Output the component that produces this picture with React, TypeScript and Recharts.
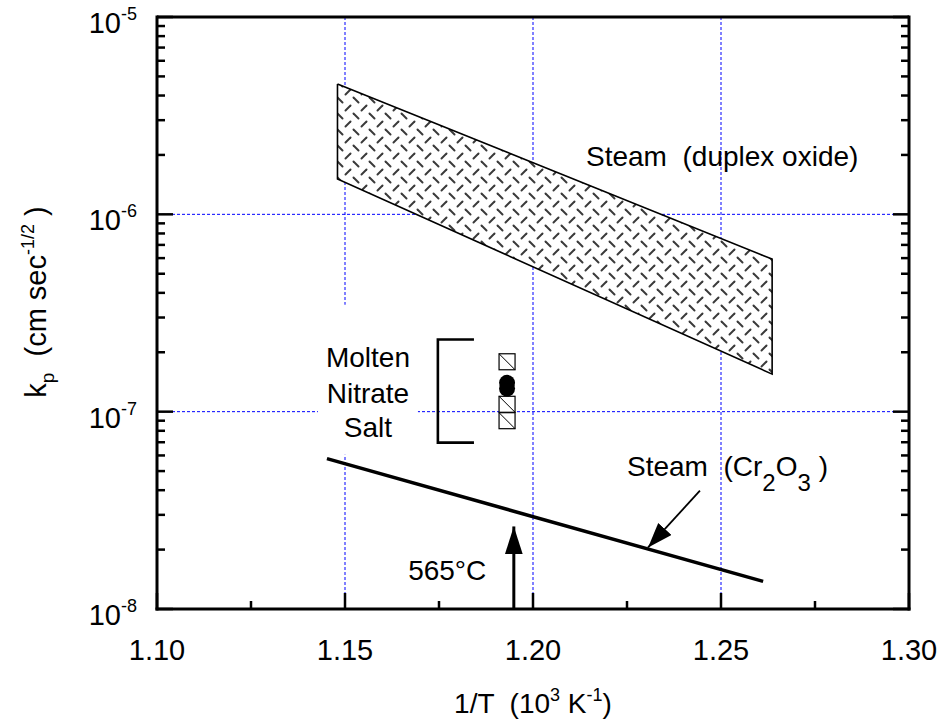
import React from "react";
import {
  Area,
  CartesianGrid,
  ComposedChart,
  Line,
  ReferenceDot,
  ReferenceLine,
  Scatter,
  XAxis,
  YAxis,
} from "recharts";

const W = 946;
const H = 725;
const FONT = "'Liberation Sans', Arial, Helvetica, sans-serif";

// axes
const xMajor = [1.1, 1.15, 1.2, 1.25, 1.3];
const xTicks = [1.1, 1.125, 1.15, 1.175, 1.2, 1.225, 1.25, 1.275, 1.3];
const yDecades = [-8, -7, -6];
const yMantissas = [1, 2, 3, 4, 5, 6, 7, 8, 9];
const yTicks = [
  ...yDecades.flatMap((d) => yMantissas.map((m) => m * Math.pow(10, d))),
  1e-5,
];
const gridX = [1.15, 1.2, 1.25];
const gridY = [1e-6, 1e-7];

// steam (duplex oxide) scatter band
const duplexBand = [
  { x: 1.148, band: [1.51e-6, 4.58e-6] },
  { x: 1.2636, band: [1.55e-7, 5.93e-7] },
];
const duplexOutline = [
  { x: duplexBand[0].x, y: duplexBand[0].band[1] },
  { x: duplexBand[1].x, y: duplexBand[1].band[1] },
  { x: duplexBand[1].x, y: duplexBand[1].band[0] },
  { x: duplexBand[0].x, y: duplexBand[0].band[0] },
  { x: duplexBand[0].x, y: duplexBand[0].band[1] },
];

// steam (Cr2O3)
const cr2o3Line = [
  { x: 1.1452, y: 5.78e-8 },
  { x: 1.2612, y: 1.38e-8 },
];

// molten nitrate salt data at 565 C
const saltSquares = [
  { x: 1.1931, y: 1.79e-7 },
  { x: 1.1931, y: 1.09e-7 },
  { x: 1.1931, y: 9.0e-8 },
];
const saltCircles = [
  { x: 1.1931, y: 1.4e-7 },
  { x: 1.1931, y: 1.31e-7 },
];
const saltBracket = [
  { x: 1.1843, y: 2.32e-7 },
  { x: 1.1747, y: 2.32e-7 },
  { x: 1.1747, y: 6.97e-8 },
  { x: 1.1843, y: 6.97e-8 },
];

// arrows
const cr2o3Arrow = [
  { x: 1.2444, y: 3.98e-8 },
  { x: 1.2306, y: 2.05e-8 },
];
const tempArrow = [
  { x: 1.1949, y: 1e-8 },
  { x: 1.1949, y: 2.62e-8 },
];

const isDecade = (v: number) =>
  Math.abs(Math.log10(v) - Math.round(Math.log10(v))) < 1e-6;

const XTick = (p: any) => {
  const { x, y, payload } = p;
  const v = payload.value;
  const major = xMajor.some((m) => Math.abs(m - v) < 1e-9);
  return (
    <g>
      <line x1={x} x2={x} y1={y} y2={y - (major ? 16 : 8)} stroke="#000" strokeWidth={2.5} />
      {major && (
        <text x={x} y={y + 51} textAnchor="middle" fontSize={29} fill="#000">
          {v.toFixed(2)}
        </text>
      )}
    </g>
  );
};

const YTickLeft = (p: any) => {
  const { x, y, payload } = p;
  const v = payload.value;
  const major = isDecade(v);
  return (
    <g>
      <line x1={x} x2={x + (major ? 16 : 8)} y1={y} y2={y} stroke="#000" strokeWidth={2.5} />
      {major && (
        <text x={x - 20} y={y + 16} textAnchor="end" fill="#000">
          <tspan fontSize={29}>10</tspan>
          <tspan fontSize={18} dy={-13}>
            {Math.round(Math.log10(v))}
          </tspan>
        </text>
      )}
    </g>
  );
};

const YTickRight = (p: any) => {
  const { x, y, payload } = p;
  const major = isDecade(payload.value);
  return <line x1={x} x2={x - (major ? 16 : 8)} y1={y} y2={y} stroke="#000" strokeWidth={2.5} />;
};

const XTitle = (p: any) => {
  const vb = p.viewBox;
  return (
    <text x={vb.x + vb.width / 2} y={vb.y + 104} textAnchor="middle" fontSize={28} fill="#000" style={{ whiteSpace: "pre" }}>
      <tspan>1/T  (10</tspan>
      <tspan fontSize={18} dy={-12}>3</tspan>
      <tspan dy={12}> K</tspan>
      <tspan fontSize={18} dy={-12}>-1</tspan>
      <tspan dy={12}>)</tspan>
    </text>
  );
};

const YTitle = (p: any) => {
  const vb = p.viewBox;
  const cx = 46;
  const cy = vb.y + 285;
  return (
    <text x={cx} y={cy} textAnchor="middle" fontSize={29} fill="#000" transform={`rotate(-90 ${cx} ${cy})`} style={{ whiteSpace: "pre" }}>
      <tspan>k</tspan>
      <tspan fontSize={19} dy={8}>p</tspan>
      <tspan dy={-8}>  (cm sec</tspan>
      <tspan fontSize={18} dy={-12}>-1/2</tspan>
      <tspan dy={12}> )</tspan>
    </text>
  );
};

const SquareShape = (p: any) => {
  const { cx, cy } = p;
  const s = 8;
  return (
    <g>
      <rect x={cx - s} y={cy - s} width={2 * s} height={2 * s} fill="#fff" stroke="#000" strokeWidth={1.2} />
      <line x1={cx - s} y1={cy - s} x2={cx + s} y2={cy + s} stroke="#000" strokeWidth={1} />
    </g>
  );
};

const CircleShape = (p: any) => <circle cx={p.cx} cy={p.cy} r={8} fill="#000" />;

const DuplexLabel = (p: any) => (
  <text x={p.cx} y={p.cy} fontSize={28} fill="#000" style={{ whiteSpace: "pre" }}>
    Steam  (duplex oxide)
  </text>
);

const Cr2o3Label = (p: any) => (
  <text x={p.cx} y={p.cy} fontSize={28} fill="#000" style={{ whiteSpace: "pre" }}>
    <tspan>Steam  (Cr</tspan>
    <tspan fontSize={24} dy={15}>2</tspan>
    <tspan dy={-15}>O</tspan>
    <tspan fontSize={24} dy={15}>3</tspan>
    <tspan dy={-15}> )</tspan>
  </text>
);

const TempLabel = (p: any) => (
  <text x={p.cx} y={p.cy} fontSize={28} fill="#000">
    565°C
  </text>
);

const SaltLabel = (p: any) => (
  <g>
    <rect x={p.cx - 50} y={p.cy - 98} width={100} height={150} fill="#fff" />
    <text x={p.cx} y={p.cy - 36} textAnchor="middle" fontSize={28} fill="#000">Molten</text>
    <text x={p.cx} y={p.cy} textAnchor="middle" fontSize={28} fill="#000">Nitrate</text>
    <text x={p.cx} y={p.cy + 34} textAnchor="middle" fontSize={28} fill="#000">Salt</text>
  </g>
);

export default function App() {
  const axisLine = { stroke: "#000", strokeWidth: 3, strokeLinecap: "square" as const };
  return (
    <div style={{ position: "absolute", left: 0, top: 0, width: W, height: H, background: "#fff", fontFamily: FONT }}>
      <ComposedChart width={W} height={H} margin={{ top: 17, right: 36, bottom: 0, left: 0 }}>
        <defs>
          <pattern id="plate" width={16} height={16} patternUnits="userSpaceOnUse">
            <rect width={16} height={16} fill="#fff" />
            <line x1={1.5} y1={1.5} x2={6.5} y2={6.5} stroke="#3a3a3a" strokeWidth={2} strokeLinecap="round" />
            <line x1={9.5} y1={14.5} x2={14.5} y2={9.5} stroke="#3a3a3a" strokeWidth={2} strokeLinecap="round" />
          </pattern>
          <marker id="headSmall" markerWidth={30} markerHeight={22} refX={25} refY={9} orient="auto" markerUnits="userSpaceOnUse">
            <path d="M0,0 L25,9 L0,18 Z" fill="#000" />
          </marker>
          <marker id="headBig" markerWidth={32} markerHeight={22} refX={28} refY={9} orient="auto" markerUnits="userSpaceOnUse">
            <path d="M0,0 L28,9 L0,18 Z" fill="#000" />
          </marker>
        </defs>
        <CartesianGrid
          verticalValues={gridX}
          horizontalValues={gridY}
          stroke="#0000ff"
          strokeDasharray="3 2"
          strokeWidth={1}
        />
        <XAxis
          dataKey="x"
          type="number"
          domain={[1.1, 1.3]}
          ticks={xTicks}
          interval={0}
          allowDataOverflow
          height={116}
          tickSize={0}
          tickMargin={0}
          tickLine={false}
          axisLine={axisLine}
          tick={XTick}
          label={XTitle}
        />
        <YAxis
          type="number"
          scale="log"
          domain={[1e-8, 1e-5]}
          ticks={yTicks}
          interval={0}
          allowDataOverflow
          width={157}
          tickSize={0}
          tickMargin={0}
          tickLine={false}
          axisLine={axisLine}
          tick={YTickLeft}
          label={YTitle}
        />
        <YAxis
          yAxisId="r"
          orientation="right"
          type="number"
          scale="log"
          domain={[1e-8, 1e-5]}
          ticks={yTicks}
          interval={0}
          allowDataOverflow
          width={1}
          tickSize={0}
          tickMargin={0}
          tickLine={false}
          axisLine={axisLine}
          tick={YTickRight}
        />
        <ReferenceLine y={1e-5} stroke="#000" strokeWidth={3} />
        <Area
          data={duplexBand}
          dataKey="band"
          type="linear"
          stroke="none"
          fill="url(#plate)"
          fillOpacity={1}
          isAnimationActive={false}
          activeDot={false}
        />
        <Line data={duplexOutline} dataKey="y" type="linear" stroke="#000" strokeWidth={1.6} dot={false} activeDot={false} isAnimationActive={false} />
        <Line data={cr2o3Line} dataKey="y" type="linear" stroke="#000" strokeWidth={3.5} dot={false} activeDot={false} isAnimationActive={false} />
        <Line data={saltBracket} dataKey="y" type="linear" stroke="#000" strokeWidth={2.6} dot={false} activeDot={false} isAnimationActive={false} />
        <Line data={cr2o3Arrow} dataKey="y" type="linear" stroke="#000" strokeWidth={1.8} dot={false} activeDot={false} markerEnd="url(#headSmall)" isAnimationActive={false} />
        <Line data={tempArrow} dataKey="y" type="linear" stroke="#000" strokeWidth={3} dot={false} activeDot={false} markerEnd="url(#headBig)" isAnimationActive={false} />
        <Scatter data={saltSquares} dataKey="y" shape={SquareShape} isAnimationActive={false} />
        <Scatter data={saltCircles} dataKey="y" shape={CircleShape} isAnimationActive={false} />
        <ReferenceDot x={1.2141} y={1.76e-6} r={1} shape={DuplexLabel} />
        <ReferenceDot x={1.225} y={4.7e-8} r={1} shape={Cr2o3Label} />
        <ReferenceDot x={1.1668} y={1.41e-8} r={1} shape={TempLabel} />
        <ReferenceDot x={1.1561} y={1.11e-7} r={1} shape={SaltLabel} />
      </ComposedChart>
    </div>
  );
}
